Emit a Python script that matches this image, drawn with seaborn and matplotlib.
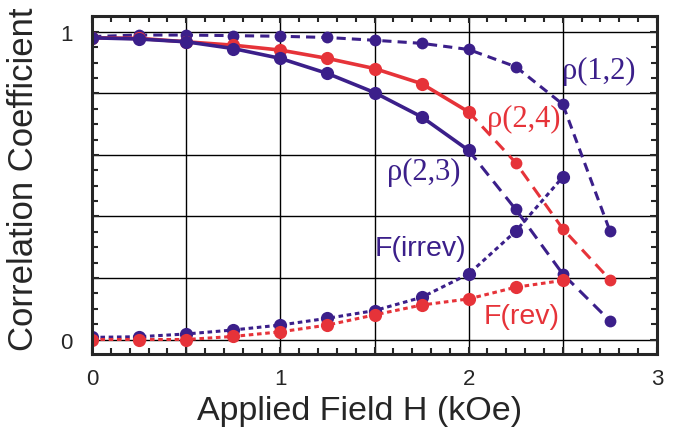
import numpy as np
import pandas as pd
import seaborn as sns
import matplotlib.pyplot as plt
from matplotlib.ticker import MultipleLocator

# field values (kOe)
field = [0.0, 0.25, 0.5, 0.75, 1.0, 1.25, 1.5, 1.75, 2.0, 2.25, 2.5, 2.75]

rho12 = [0.985, 0.99, 0.99, 0.988, 0.986, 0.982, 0.973, 0.963, 0.943, 0.887, 0.765, 0.354]
rho24 = [0.981, 0.979, 0.968, 0.957, 0.941, 0.914, 0.881, 0.832, 0.740, 0.575, 0.360, 0.195]
rho23 = [0.981, 0.977, 0.968, 0.946, 0.914, 0.865, 0.803, 0.724, 0.615, 0.423, 0.213, 0.061]
f_irrev = [0.007, 0.009, 0.018, 0.031, 0.047, 0.069, 0.094, 0.137, 0.213, 0.352, 0.528]
f_rev = [0.0, 0.0, 0.0, 0.010, 0.025, 0.047, 0.080, 0.112, 0.132, 0.170, 0.192]

purple = "#3b1f8a"
red = "#e63339"

sns.set_style("ticks")
plt.rcParams['font.family'] = ['Liberation Sans', 'DejaVu Sans']

fig = plt.figure(figsize=(6.73, 4.35), dpi=100)
ax = fig.add_axes([0.137, 0.184, 0.839, 0.777])

df = pd.DataFrame({"H": field, "r12": rho12, "r24": rho24, "r23": rho23})
solid = df[df.H <= 2.0]
tail = df[df.H >= 2.0]

# rho(1,2) dashed all the way
sns.lineplot(data=df, x="H", y="r12", ax=ax, color=purple, lw=2.2,
             linestyle=(0, (3, 2)), marker="o", ms=8.5, mew=0)
# rho(2,4) / rho(2,3): solid up to 2 kOe, dashed after
sns.lineplot(data=solid, x="H", y="r24", ax=ax, color=red, lw=2.6,
             marker="o", ms=9.5, mew=0)
sns.lineplot(data=tail, x="H", y="r24", ax=ax, color=red, lw=2.2,
             linestyle=(0, (4, 2.5)), marker="o", ms=8.5, mew=0)
sns.lineplot(data=solid, x="H", y="r23", ax=ax, color=purple, lw=2.6,
             marker="o", ms=9.5, mew=0)
sns.lineplot(data=tail, x="H", y="r23", ax=ax, color=purple, lw=2.2,
             linestyle=(0, (4, 2.5)), marker="o", ms=8.5, mew=0)
# F(irrev), F(rev) dotted
sns.lineplot(x=field[:len(f_irrev)], y=f_irrev, ax=ax, color=purple, lw=2.2,
             linestyle=(0, (1.5, 1.2)), marker="o", ms=9.5, mew=0)
sns.lineplot(x=field[:len(f_rev)], y=f_rev, ax=ax, color=red, lw=2.2,
             linestyle=(0, (1.5, 1.2)), marker="o", ms=9.5, mew=0)

ax.set_xlim(0, 3)
ax.set_ylim(-0.047, 1.052)
ax.set_xticks(np.arange(0, 3.01, 0.5))
ax.set_xticklabels(["0", "", "1", "", "2", "", "3"])
ax.set_yticks(np.arange(0, 1.01, 0.2))
ax.set_yticklabels(["0", "", "", "", "", "1"])
ax.xaxis.set_minor_locator(MultipleLocator(0.1))
ax.yaxis.set_minor_locator(MultipleLocator(0.05))
ax.tick_params(which="both", direction="in", top=True, right=True,
               width=1.5, labelsize=16)
ax.tick_params(which="major", length=5)
ax.tick_params(axis="y", which="major", pad=14)
ax.tick_params(axis="x", which="major", pad=10)
ax.tick_params(which="minor", length=4)
ax.grid(True, which="major", color="black", lw=1.0)
for s in ax.spines.values():
    s.set_linewidth(2.2)

ax.set_xlabel("Applied Field H (kOe)", fontsize=24.5)
ax.xaxis.set_label_coords(0.474, -0.122)
ax.set_ylabel("Correlation Coefficient", fontsize=25)
ax.yaxis.set_label_coords(-0.092, 0.52)

serif = ['Liberation Serif', 'DejaVu Serif']
ax.text(2.497, 0.875, "ρ(1,2)", color=purple, fontsize=22, family=serif, va="center")
ax.text(2.095, 0.718, "ρ(2,4)", color=red, fontsize=22, family=serif, va="center")
ax.text(1.566, 0.545, "ρ(2,3)", color=purple, fontsize=22, family=serif, va="center")
ax.text(1.503, 0.298, "F(irrev)", color=purple, fontsize=20.5, va="center")
ax.text(2.08, 0.075, "F(rev)", color=red, fontsize=20.5, va="center")

fig.savefig("out.png", dpi=100)
